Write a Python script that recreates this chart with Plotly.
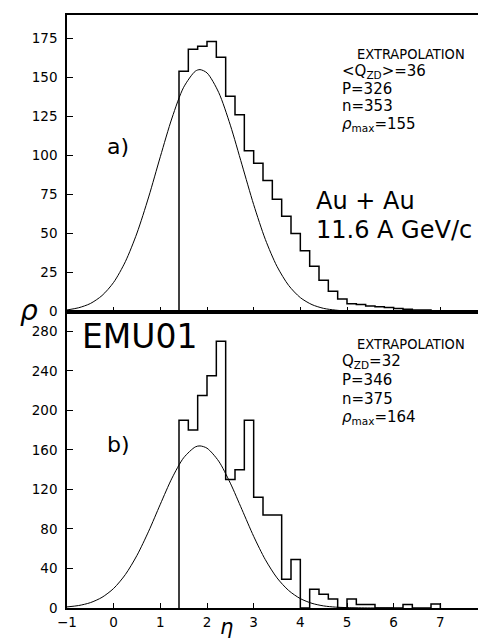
import plotly.graph_objects as go
from plotly.subplots import make_subplots

# ---------------- data ----------------
eta_ticks = [-1, 0, 1, 2, 3, 4, 5, 6, 7, 8]
eta_ticktext = ["\u22121", "0", "1", "2", "3", "4", "5", "6", "7", "8"]

top_yticks = [0, 25, 50, 75, 100, 125, 150, 175]
bot_yticks = [0, 40, 80, 120, 160, 200, 240, 280]

bin_width = 0.2
top_bin_lo = [1.4, 1.6, 1.8, 2.0, 2.2, 2.4, 2.6, 2.8, 3.0, 3.2, 3.4, 3.6, 3.8, 4.0,
              4.2, 4.4, 4.6, 4.8, 5.0, 5.2, 5.4, 5.6, 5.8, 6.0, 6.2, 6.4, 6.6, 6.8,
              7.0, 7.2, 7.4, 7.6, 7.8]
top_rho = [154, 168, 170, 173, 163, 138, 126, 103, 95, 84, 72, 61, 50, 39,
           29, 20, 13, 8, 5, 4.5, 3.5, 3, 2.5, 2, 1.5, 1, 1, 0.5,
           0.5, 0, 0.5, 0.5, 0.5]

bot_bin_lo = [1.4, 1.6, 1.8, 2.0, 2.2, 2.4, 2.6, 2.8, 3.0, 3.2, 3.4, 3.6, 3.8, 4.0,
              4.2, 4.4, 4.6, 4.8, 5.0, 5.2, 5.4, 5.6, 5.8, 6.0, 6.2, 6.4, 6.6, 6.8]
bot_rho = [190, 180, 215, 235, 270, 130, 140, 190, 112, 94, 94, 29, 49, 0,
           19, 14, 9, 0, 9, 3.5, 3.5, 0, 0, 0, 3.5, 0, 0, 4]

curve_eta = [-1, -0.75, -0.5, -0.25, 0, 0.25, 0.5, 0.75, 1, 1.25, 1.5, 1.75, 1.85,
             2, 2.25, 2.5, 2.75, 3, 3.25, 3.5, 3.75, 4, 4.25, 4.5, 4.75, 5, 5.5, 6]
top_curve = [1.0, 2.4, 5.1, 10.2, 18.7, 31.9, 50.3, 73.4, 99.2, 124, 143.7, 154, 155,
             152.9, 140.4, 119.4, 94, 68.5, 46.2, 28.9, 16.7, 8.9, 4.4, 2.0, 0.9, 0.3, 0.05, 0]
bot_curve = [1.1, 2.5, 5.4, 10.8, 19.8, 33.8, 53.3, 77.7, 105, 131.4, 152, 163, 164,
             161.7, 148.6, 126.3, 99.5, 72.5, 48.9, 30.5, 17.7, 9.5, 4.7, 2.1, 0.9, 0.4, 0.05, 0]


def step_xy(lo, vals, w):
    xs = [lo[0]] + list(lo) + [lo[-1] + w, lo[-1] + w]
    ys = [0] + list(vals) + [vals[-1], 0]
    return xs, ys


# ---------------- figure ----------------
W, H = 486, 640
ML, MR, MT, MB = 59, 7, 7, 40

fig = make_subplots(rows=2, cols=1, shared_xaxes=True, vertical_spacing=0)

for row, (lo, vals, cx, cy) in enumerate(
        [(top_bin_lo, top_rho, curve_eta, top_curve),
         (bot_bin_lo, bot_rho, curve_eta, bot_curve)], start=1):
    sx, sy = step_xy(lo, vals, bin_width)
    fig.add_trace(go.Scatter(x=sx, y=sy, mode="lines", line_shape="hv",
                             line=dict(color="black", width=1.5),
                             hoverinfo="skip"), row=row, col=1)
    fig.add_trace(go.Scatter(x=cx, y=cy, mode="lines", line_shape="spline",
                             line=dict(color="black", width=1.0, smoothing=0.8),
                             hoverinfo="skip"), row=row, col=1)

tickfont = dict(family="DejaVu Sans", size=13.5, color="black")
axcommon = dict(showline=True, mirror=True, linecolor="black", linewidth=1.5,
                showgrid=False, zeroline=False, ticks="inside", tickcolor="black",
                tickwidth=1, tickfont=tickfont, automargin=False)

fig.update_xaxes(range=[-1, 8], tickvals=eta_ticks, ticktext=eta_ticktext,
                 ticklen=5, **axcommon)
fig.update_xaxes(showticklabels=False, row=1, col=1)
fig.update_xaxes(showticklabels=True, ticklabelstandoff=1, row=2, col=1)
fig.update_yaxes(range=[0, 190], tickvals=top_yticks, ticklen=6,
                 ticklabelstandoff=5, row=1, col=1, **axcommon)
fig.update_yaxes(range=[0, 300], tickvals=bot_yticks, ticklen=6,
                 ticklabelstandoff=5, row=2, col=1, **axcommon)

PW = W - ML - MR
PH = H - MT - MB


def px_x(px):
    return (px - ML) / PW


def px_y(py):
    return (H - MB - py) / PH


txt_font = "DejaVu Sans"
cond_font = "DejaVu Sans Condensed, DejaVu Sans"
annots = [
    ("EXTRAPOLATION", 347, 46, 14.5, cond_font),
    ("&lt;Q<sub>ZD</sub>&gt;=36", 332, 64, 15, txt_font),
    ("P=326", 332, 81, 15, txt_font),
    ("n=353", 332, 98, 15, txt_font),
    ("<i>ρ</i><sub>max</sub>=155", 332, 116, 15, txt_font),
    ("Au + Au", 306, 193, 24, txt_font),
    ("11.6 A GeV/c", 306, 222, 24, txt_font),
    ("a)", 97, 138, 22, txt_font),
    ("EMU01", 72, 328, 33, txt_font),
    ("EXTRAPOLATION", 347, 336, 14.5, cond_font),
    ("Q<sub>ZD</sub>=32", 332, 354, 15, txt_font),
    ("P=346", 332, 372, 15, txt_font),
    ("n=375", 332, 391, 15, txt_font),
    ("<i>ρ</i><sub>max</sub>=164", 332, 409, 15, txt_font),
    ("b)", 97, 436, 22, txt_font),
]
for text, x, y, size, fam in annots:
    fig.add_annotation(text=text, xref="paper", yref="paper", x=px_x(x), y=px_y(y),
                       xanchor="left", yanchor="middle", showarrow=False,
                       font=dict(family=fam, size=size, color="black"))

fig.add_annotation(text="<i>ρ</i>", xref="paper", yref="paper", x=px_x(21), y=px_y(302),
                   xanchor="center", yanchor="middle", showarrow=False,
                   font=dict(family="DejaVu Sans", size=28, color="black"))
fig.add_annotation(text="<i>η</i>", xref="paper", yref="paper", x=px_x(218), y=px_y(619),
                   xanchor="center", yanchor="middle", showarrow=False,
                   font=dict(family="DejaVu Sans", size=21, color="black"))

fig.update_layout(width=W, height=H,
                  margin=dict(l=ML, r=MR, t=MT, b=MB, autoexpand=False),
                  plot_bgcolor="white", paper_bgcolor="white", showlegend=False)

fig.write_html("out.html")
